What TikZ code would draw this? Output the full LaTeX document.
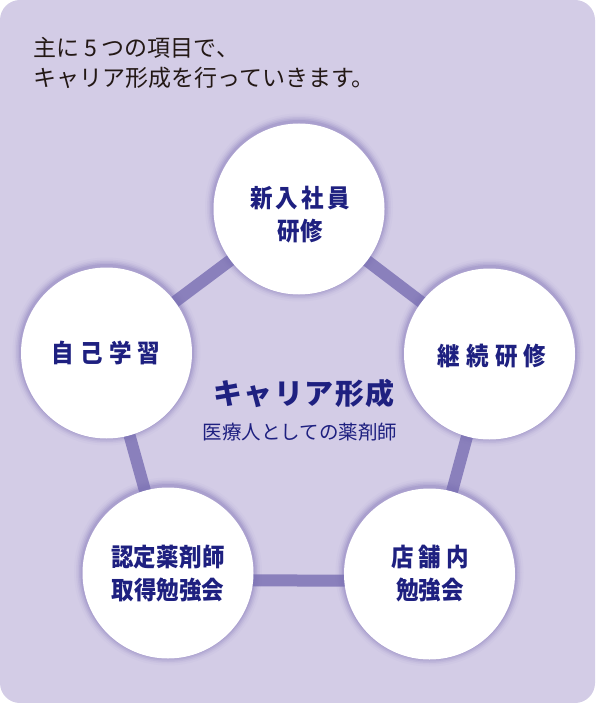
\documentclass[tikz,border=0pt]{standalone}
\usepackage{fontspec}
\usetikzlibrary{calc}
\newfontfamily\jp{Noto Sans CJK JP}
\newfontfamily\jpc[FakeStretch=0.9]{Noto Sans CJK JP}
\definecolor{bg}{HTML}{D3CCE6}
\definecolor{link}{HTML}{8A80BC}
\definecolor{ink}{HTML}{1E2080}
\definecolor{dark}{HTML}{231815}
\definecolor{glow}{HTML}{7A6FB5}
\tikzset{
  item/.style={circle, fill=white, minimum size=171pt, inner sep=0pt},
  itemtext/.style={align=center, inner sep=0pt, text=ink,
    font=\jpc\bfseries\fontsize{25}{33}\selectfont},
  linkline/.style={draw=link, line width=12pt},
}
\newcommand{\glowat}[1]{%
  \foreach \r/\o in {94/0.04,92/0.07,90.5/0.10,89/0.14,87.5/0.2}{%
    \fill[glow, opacity=\o] ($(#1)+(0,-1.5)$) circle (\r pt);}}
\newcommand{\ls}[1]{\addfontfeature{LetterSpace=#1}}
\begin{document}
\begin{tikzpicture}[x=1pt,y=-1pt]
\useasboundingbox (0,0) rectangle (595,703);
\fill[bg, rounded corners=20pt] (0,0) rectangle (595,703);
% positions
\coordinate (pA) at (299,209);
\coordinate (pB) at (489.5,354);
\coordinate (pE) at (106.5,353);
\coordinate (pD) at (168,573);
\coordinate (pC) at (429.5,574);
% title
\node[anchor=west, text=dark, font=\jp\fontsize{23}{30.5}\selectfont, align=left, inner sep=0pt] (title) at (33,63)
  {主に\hspace{5pt}5\hspace{5pt}つの項目で、\\キャリア形成を行っていきます。};
% connectors
\draw[linkline] (pA) -- (pB);
\draw[linkline] (pB) -- (pC);
\draw[linkline] ($(pC)+(0,7)$) -- ($(pD)+(0,7)$);
\draw[linkline] (pD) -- (pE);
\draw[linkline] (pE) -- (pA);
% glows
\glowat{pA}\glowat{pB}\glowat{pC}\glowat{pD}\glowat{pE}
% circles
\node[item] (a) at (pA) {};
\node[item] (b) at (pB) {};
\node[item] (c) at (pC) {};
\node[item] (d) at (pD) {};
\node[item] (e) at (pE) {};
\node[itemtext] (at) at (300,215) {\ls{13}新入社員\\研修};
\node[itemtext] (bt) at (492,356) {\ls{25}継続研修};
\node[itemtext] (ct) at (430,573.5) {\ls{20}店舗内\\勉強会};
\node[itemtext] (dt) at (168,573.5) {\ls{1}認定薬剤師\\取得勉強会};
\node[itemtext] (et) at (106,353) {\ls{25}自己学習};
% center
\node[text=ink, inner sep=0pt, font=\jp\bfseries\fontsize{29}{32}\selectfont] (ctitle) at (304,393) {\ls{5}キャリア形成};
\node[text=ink, inner sep=0pt, font=\jp\fontsize{19.5}{22}\selectfont] (csub) at (300,432) {医療人としての薬剤師};
\end{tikzpicture}
\end{document}
